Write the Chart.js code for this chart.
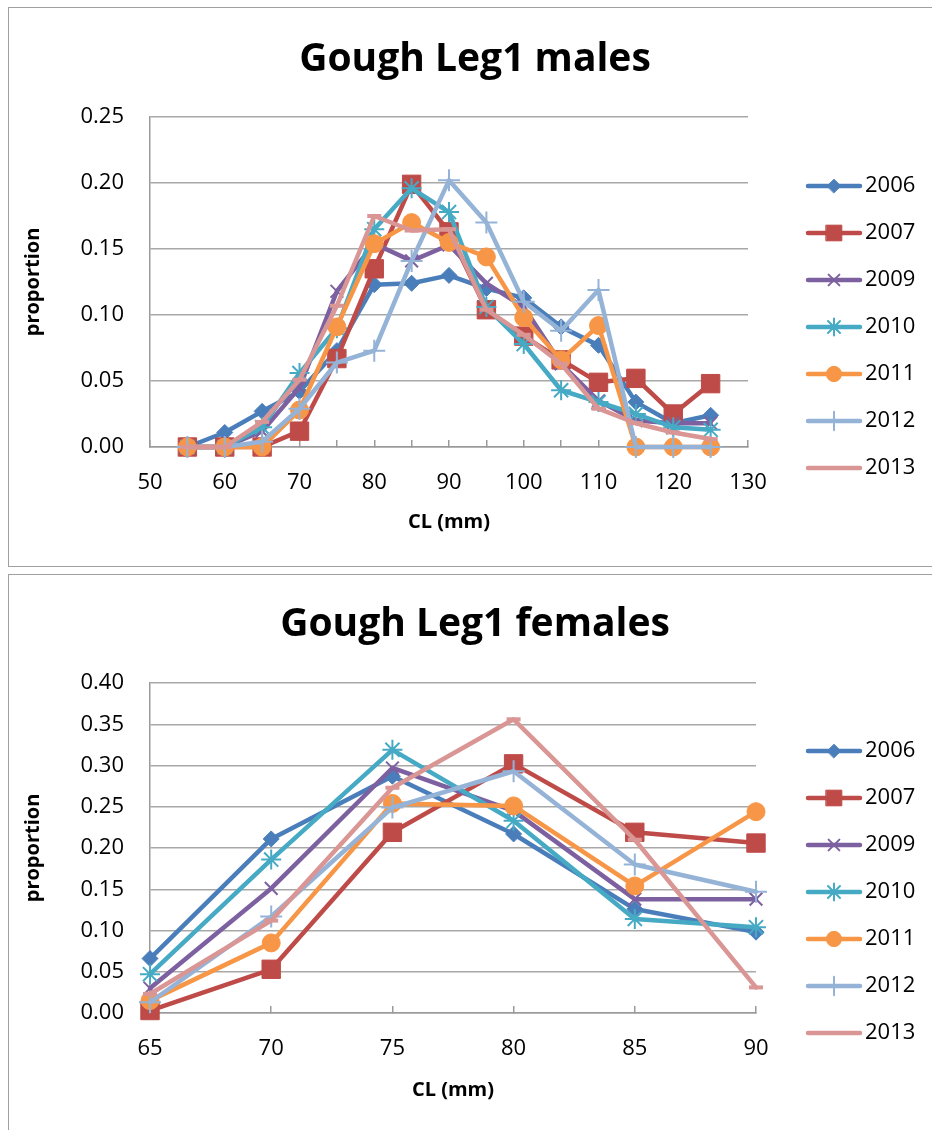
<!DOCTYPE html>
<html>
<head>
<meta charset="utf-8">
<script src="https://cdn.jsdelivr.net/npm/chart.js@4.4.1/dist/chart.umd.min.js"></script>
<style>
  html, body { margin: 0; padding: 0; background: #fff; width: 932px; height: 1130px; overflow: hidden; }
  .frame { position: absolute; left: 8px; width: 1000px; border: 1.5px solid #a0a0a0; }
  canvas { position: absolute; left: 8px; }
</style>
</head>
<body>
<div class="frame" style="top:7px;height:558px"></div>
<div class="frame" style="top:574px;height:700px"></div>
<canvas id="males" width="934" height="560" style="top:0"></canvas>
<canvas id="females" width="934" height="556" style="top:574px"></canvas>

<script>
// ── Data ──
const years = ['2006', '2007', '2009', '2010', '2011', '2012', '2013'];

const maleCL = [55, 60, 65, 70, 75, 80, 85, 90, 95, 100, 105, 110, 115, 120, 125];
const male2006 = [0, 0.011, 0.027, 0.042, 0.073, 0.123, 0.124, 0.130, 0.120, 0.113, 0.091, 0.077, 0.034, 0.018, 0.024];
const male2007 = [0, 0, 0, 0.012, 0.067, 0.135, 0.199, 0.163, 0.104, 0.084, 0.066, 0.049, 0.052, 0.025, 0.048];
const male2009 = [0, 0, 0.012, 0.045, 0.118, 0.154, 0.141, 0.153, 0.124, 0.106, 0.063, 0.035, 0.020, 0.018, 0.018];
const male2010 = [0, 0, 0.015, 0.056, 0.090, 0.165, 0.196, 0.178, 0.106, 0.078, 0.043, 0.034, 0.025, 0.015, 0.013];
const male2011 = [0, 0, 0, 0.028, 0.091, 0.154, 0.170, 0.155, 0.144, 0.098, 0.066, 0.092, 0, 0, 0];
const male2012 = [0, 0, 0.004, 0.029, 0.064, 0.073, 0.141, 0.202, 0.170, 0.110, 0.088, 0.119, 0, 0, 0];
const male2013 = [0, 0, 0.019, 0.051, 0.107, 0.175, 0.164, 0.165, 0.104, 0.085, 0.063, 0.029, 0.018, 0.011, 0.006];

const femaleCL = [65, 70, 75, 80, 85, 90];
const female2006 = [0.066, 0.211, 0.287, 0.217, 0.126, 0.098];
const female2007 = [0.003, 0.053, 0.219, 0.302, 0.219, 0.206];
const female2009 = [0.030, 0.151, 0.297, 0.245, 0.138, 0.138];
const female2010 = [0.047, 0.186, 0.319, 0.233, 0.114, 0.104];
const female2011 = [0.015, 0.085, 0.254, 0.251, 0.154, 0.244];
const female2012 = [0.013, 0.117, 0.249, 0.293, 0.180, 0.147];
const female2013 = [0.023, 0.112, 0.273, 0.356, 0.210, 0.031];

const maleTicksY = [0, 0.05, 0.10, 0.15, 0.20, 0.25];
const femaleTicksY = [0, 0.05, 0.10, 0.15, 0.20, 0.25, 0.30, 0.35, 0.40];

// ── Series styles (Excel-like) ──
const colors = ['#4A7EBB', '#BE4B48', '#7D60A0', '#46AAC5', '#F79646', '#95B3D7', '#D99694'];
const markers = [
  { style: 'rectRot', r: 8, bw: 1 },
  { style: 'rect', r: 13, bw: 1 },
  { style: 'crossRot', r: 9, bw: 2 },
  { style: 'star', r: 10, bw: 2 },
  { style: 'circle', r: 9, bw: 1 },
  { style: 'cross', r: 11, bw: 2 },
  { style: 'line', r: 7, bw: 4 }
];

const FONT = '"Open Sans", "DejaVu Sans", sans-serif';

// ── Chart title, centred on the frame rather than the plot ──
const frameTitle = {
  id: 'frameTitle',
  afterDraw(chart, args, opts) {
    const ctx = chart.ctx;
    ctx.save();
    ctx.fillStyle = '#000';
    ctx.font = 'bold 39px ' + FONT;
    ctx.textAlign = 'center';
    ctx.textBaseline = 'middle';
    ctx.fillText(opts.text, opts.x, opts.y);
    ctx.restore();
  }
};

// ── Legend drawn to the right of the plot ──
const sideLegend = {
  id: 'sideLegend',
  afterDraw(chart, args, opts) {
    const ctx = chart.ctx;
    ctx.save();
    chart.data.datasets.forEach((ds, i) => {
      const y = opts.top + i * opts.gap;
      ctx.strokeStyle = ds.borderColor;
      ctx.lineWidth = 4.5;
      ctx.lineCap = 'round';
      ctx.beginPath();
      ctx.moveTo(opts.x, y);
      ctx.lineTo(opts.x + 52, y);
      ctx.stroke();
      ctx.fillStyle = ds.pointBackgroundColor;
      ctx.strokeStyle = ds.pointBorderColor;
      ctx.lineWidth = ds.pointBorderWidth;
      Chart.helpers.drawPoint(ctx, {
        pointStyle: ds.pointStyle, radius: ds.pointRadius * 0.85, rotation: 0, borderWidth: ds.pointBorderWidth
      }, opts.x + 26, y);
      ctx.fillStyle = '#000';
      ctx.font = '22px ' + FONT;
      ctx.textAlign = 'left';
      ctx.textBaseline = 'middle';
      ctx.fillText(ds.label, opts.x + 57, y);
    });
    ctx.restore();
  }
};

function buildDatasets(xs, series) {
  return series.map((vals, i) => ({
    label: years[i],
    data: xs.map((x, j) => ({ x: x, y: vals[j] })),
    borderColor: colors[i],
    backgroundColor: colors[i],
    borderWidth: 4.5,
    borderJoinStyle: 'round',
    borderCapStyle: 'round',
    tension: 0,
    pointStyle: markers[i].style,
    pointRadius: markers[i].r,
    pointBorderWidth: markers[i].bw,
    pointBackgroundColor: colors[i],
    pointBorderColor: colors[i],
    order: series.length - 1 - i,
    clip: false
  }));
}

function makeChart(id, opt) {
  const tickFont = { family: FONT, size: 22 };
  const titleFont = { family: FONT, size: 20, weight: 'bold' };
  return new Chart(document.getElementById(id), {
    type: 'line',
    data: { datasets: buildDatasets(opt.xs, opt.series) },
    plugins: [frameTitle, sideLegend],
    options: {
      responsive: false,
      animation: false,
      events: [],
      layout: { padding: { left: 0, right: opt.padRight, top: opt.padTop, bottom: 0 } },
      plugins: {
        legend: { display: false },
        tooltip: { enabled: false },
        title: { display: false },
        frameTitle: { text: opt.title, x: 467, y: opt.titleY },
        sideLegend: { x: 800, top: opt.legendTop, gap: 47 }
      },
      scales: {
        x: {
          type: 'linear',
          min: opt.xMin,
          max: opt.xMax,
          afterFit: s => { s.height = opt.xHeight; },
          border: { color: '#9a9a9a', width: 1.5 },
          grid: { drawOnChartArea: false, drawTicks: true, tickLength: -7, color: '#9a9a9a', lineWidth: 1.5 },
          ticks: {
            stepSize: 5,
            autoSkip: false,
            maxRotation: 0,
            padding: 30,
            color: '#000',
            font: tickFont,
            callback: v => (v % opt.xLabelEvery === 0 ? String(v) : '')
          },
          title: { display: true, text: 'CL (mm)', color: '#000', font: titleFont, padding: { top: 0, bottom: opt.xTitleBottom } }
        },
        y: {
          min: 0,
          max: opt.yTicks[opt.yTicks.length - 1],
          afterFit: s => { s.width = 142; },
          afterBuildTicks: s => { s.ticks = opt.yTicks.map(v => ({ value: v })); },
          border: { color: '#9a9a9a', width: 1.5 },
          grid: { color: '#a8a8a8', lineWidth: 1.5, drawTicks: false },
          ticks: { padding: 26, color: '#000', font: tickFont, callback: v => Number(v).toFixed(2) },
          title: { display: true, text: 'proportion', color: '#000', font: titleFont, padding: { top: 13, bottom: 0 } }
        }
      }
    }
  });
}

document.addEventListener('DOMContentLoaded', function () {
  makeChart('males', {
    title: 'Gough Leg1 males',
    titleY: 60,
    xs: maleCL,
    series: [male2006, male2007, male2009, male2010, male2011, male2012, male2013],
    xMin: 50, xMax: 130, xLabelEvery: 10,
    yTicks: maleTicksY,
    padTop: 117, padRight: 194, xHeight: 113, xTitleBottom: 26,
    legendTop: 186
  });

  makeChart('females', {
    title: 'Gough Leg1 females',
    titleY: 51,
    xs: femaleCL,
    series: [female2006, female2007, female2009, female2010, female2011, female2012, female2013],
    xMin: 65, xMax: 90, xLabelEvery: 5,
    yTicks: femaleTicksY,
    padTop: 109, padRight: 186, xHeight: 117, xTitleBottom: 28,
    legendTop: 177
  });
});
</script>
</body>
</html>
